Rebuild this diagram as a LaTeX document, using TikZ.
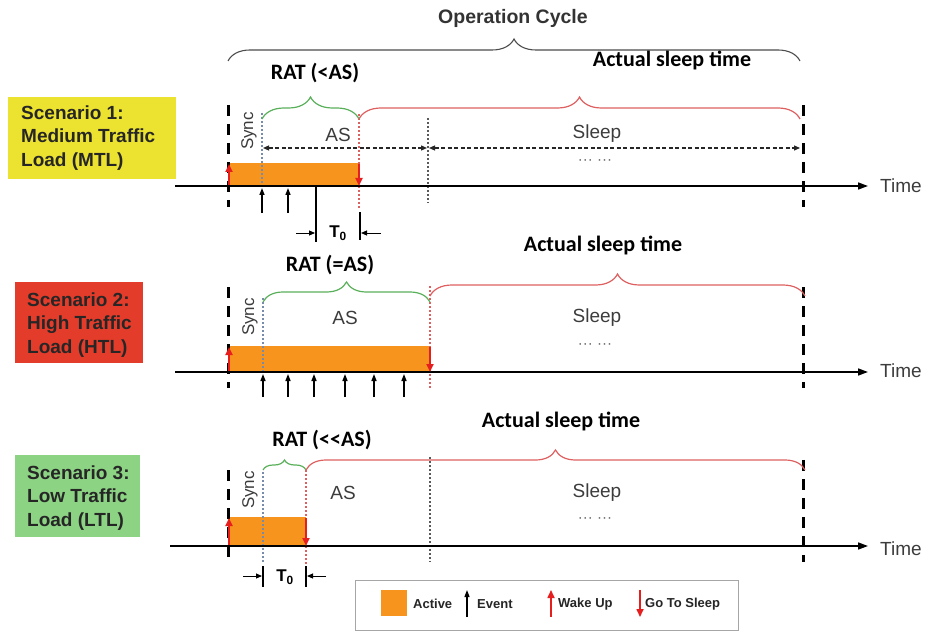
\documentclass[tikz,border=0pt]{standalone}
\usepackage{fontspec}
\setmainfont{Liberation Sans}
\newfontfamily\calfont{Carlito}
\usetikzlibrary{decorations.pathreplacing,arrows.meta}
\definecolor{orng}{RGB}{247,148,30}
\definecolor{ylw}{RGB}{236,226,48}
\definecolor{rdbox}{RGB}{228,60,42}
\definecolor{grbox}{RGB}{140,212,132}
\definecolor{brgreen}{RGB}{90,175,90}
\definecolor{brred}{RGB}{222,95,95}
\definecolor{evred}{RGB}{230,30,30}
\definecolor{syncc}{RGB}{120,140,170}
\definecolor{txtg}{RGB}{60,60,60}
\begin{document}
\begin{tikzpicture}[x=1pt,y=-1pt,
  titlelbl/.style={font=\calfont\bfseries\fontsize{22}{24}\selectfont, inner sep=0pt},
  opcyc/.style={font=\bfseries\fontsize{19.5}{22}\selectfont, text=black!80, inner sep=0pt},
  plainlbl/.style={font=\fontsize{19}{21}\selectfont, text=txtg, inner sep=0pt},
  synclbl/.style={font=\fontsize{17}{19}\selectfont, text=txtg, inner sep=0pt, rotate=90},
  dotslbl/.style={font=\fontsize{15}{17}\selectfont, text=black!60, inner sep=0pt},
  scen/.style={font=\bfseries\fontsize{19}{23.5}\selectfont, align=left, anchor=west, inner sep=0pt, text=black!85},
  tzero/.style={font=\bfseries\fontsize{17}{19}\selectfont, inner sep=0pt},
  leglbl/.style={font=\bfseries\fontsize{13}{15}\selectfont, anchor=west, inner sep=0pt, text=black!85},
  axisl/.style={line width=1.6pt, -{Triangle[length=10pt,width=7pt]}},
  bdash/.style={line width=3pt, dash pattern=on 11pt off 8pt},
  syncdot/.style={syncc, line width=1.3pt, dash pattern=on 2pt off 2pt},
  reddot/.style={brred, line width=1.3pt, dash pattern=on 2pt off 2pt},
  blkdot/.style={black!65, line width=1.2pt, dash pattern=on 2pt off 2pt},
  dasharr/.style={black!85, line width=1.2pt, dash pattern=on 4pt off 2.5pt, {Triangle[length=6pt,width=5pt]}-{Triangle[length=6pt,width=5pt]}},
  evt/.style={black, line width=1.4pt, -{Triangle[length=7pt,width=5pt]}},
  wake/.style={evred, line width=2pt, -{Triangle[length=8pt,width=7pt]}},
  marker/.style={black, line width=1.3pt},
  tarr/.style={black, line width=1pt, -{Triangle[length=6pt,width=5pt]}},
  bigbrace/.style={black!70, line width=1.1pt, decorate, decoration={brace, amplitude=22pt}},
  gbrace/.style={brgreen, line width=1.2pt, decorate, decoration={brace, amplitude=#1}},
  rbrace/.style={brred, line width=1.2pt, decorate, decoration={brace, amplitude=#1}}
]
\useasboundingbox (0,0) rectangle (931,631);

% ---------- top ----------
\node[opcyc] (opc) at (513,18) {Operation Cycle};
\draw[bigbrace] (228,61) -- (800,61);

% ---------- Scenario 1 ----------
\fill[ylw] (8,97) rectangle (176,179);
\node[scen] (s1) at (21,138) {Scenario 1:\\Medium Traffic\\Load (MTL)};
\node[titlelbl] (rat1) at (315,73) {RAT (<AS)};
\node[titlelbl] (ast1) at (672,60) {Actual sleep time};
\fill[orng] (228,163) rectangle (359,186);
\draw[bdash] (228,105) -- (228,207);
\draw[bdash] (803,105) -- (803,207);
\draw[syncdot] (262,113) -- (262,186);
\draw[reddot] (359,114) -- (359,208);
\draw[blkdot] (428,118) -- (428,203);
\draw[gbrace=22pt] (262,119) -- (359,119);
\draw[rbrace=22pt] (359,119) -- (800,119);
\draw[dasharr] (263,148) -- (427,148);
\draw[dasharr] (429,148) -- (800,148);
\draw[axisl] (175,186) -- (868,186);
\node[plainlbl, anchor=west] (time1) at (880,186) {Time};
\node[synclbl] (sync1) at (249,131) {Sync};
\node[plainlbl] (as1) at (338,135) {AS};
\node[plainlbl] (sl1) at (597,134) {Sleep};
\node[dotslbl] (d1) at (595,162) {··· ···};
\draw[wake] (229,185) -- (229,164);
\draw[wake] (359,164) -- (359,186);
\draw[evt] (262,213) -- (262,188);
\draw[evt] (288,213) -- (288,188);
\draw[black, line width=1.8pt] (316,186) -- (316,242);
\draw[marker] (360,212) -- (360,240);
\draw[tarr] (296,233) -- (315,233);
\draw[tarr] (381,233) -- (361,233);
\node[tzero] (t01) at (338,233) {T\textsubscript{0}};

% ---------- Scenario 2 ----------
\fill[rdbox] (15,282) rectangle (143,363);
\node[scen] (s2) at (27,325) {Scenario 2:\\High Traffic\\Load (HTL)};
\node[titlelbl] (rat2) at (330,265) {RAT (=AS)};
\node[titlelbl] (ast2) at (603,245) {Actual sleep time};
\fill[orng] (228,346) rectangle (430,372);
\draw[bdash] (228,287) -- (228,388);
\draw[bdash] (803,287) -- (803,388);
\draw[syncdot] (263,298) -- (263,372);
\draw[reddot] (430,286) -- (430,388);
\draw[gbrace=20pt] (263,302) -- (430,302);
\draw[rbrace=22pt] (430,296) -- (805,296);
\draw[axisl] (175,372) -- (868,372);
\node[plainlbl, anchor=west] (time2) at (880,371) {Time};
\node[synclbl] (sync2) at (250,317) {Sync};
\node[plainlbl] (as2) at (345,318) {AS};
\node[plainlbl] (sl2) at (597,318) {Sleep};
\node[dotslbl] (d2) at (595,346) {··· ···};
\draw[wake] (229,371) -- (229,347);
\draw[wake] (430,347) -- (430,372);
\foreach \ex in {263,288,314,345,374,404}
  \draw[evt] (\ex,397) -- (\ex,374);

% ---------- Scenario 3 ----------
\fill[grbox] (15,455) rectangle (140,537);
\node[scen] (s3) at (27,498) {Scenario 3:\\Low Traffic\\Load (LTL)};
\node[titlelbl] (rat3) at (322,440) {RAT (<<AS)};
\node[titlelbl] (ast3) at (561,421) {Actual sleep time};
\fill[orng] (228,517) rectangle (306,546);
\draw[bdash] (228,470) -- (228,562);
\draw[bdash] (803,460) -- (803,562);
\draw[syncdot] (263,472) -- (263,562);
\draw[reddot] (306,470) -- (306,566);
\draw[blkdot] (430,457) -- (430,562);
\draw[gbrace=10pt] (263,470) -- (306,470);
\draw[rbrace=20pt] (306,470) -- (805,470);
\draw[axisl] (170,546) -- (868,546);
\node[plainlbl, anchor=west] (time3) at (880,549) {Time};
\node[synclbl] (sync3) at (250,490) {Sync};
\node[plainlbl] (as3) at (343,493) {AS};
\node[plainlbl] (sl3) at (597,493) {Sleep};
\node[dotslbl] (d3) at (595,520) {··· ···};
\draw[wake] (229,545) -- (229,518);
\draw[wake] (306,518) -- (306,546);
\draw[marker] (263,566) -- (263,587);
\draw[marker] (306,566) -- (306,587);
\draw[tarr] (243,576) -- (262,576);
\draw[tarr] (326,576) -- (307,576);
\node[tzero] (t03) at (285,577) {T\textsubscript{0}};

% ---------- legend ----------
\draw[black!35, line width=1pt, fill=white] (355,580) rectangle (738,630);
\fill[orng] (381,590) rectangle (407,616);
\node[leglbl] (lact) at (413,604) {Active};
\draw[evt, line width=1.2pt] (467,617) -- (467,590);
\node[leglbl] (levt) at (477,604) {Event};
\draw[wake, line width=1.6pt] (551,617) -- (551,590);
\node[leglbl] (lwk) at (558,604) {Wake Up};
\draw[wake, line width=1.6pt] (640,590) -- (640,617);
\node[leglbl] (lgs) at (645,604) {Go To Sleep};
\end{tikzpicture}
\end{document}
